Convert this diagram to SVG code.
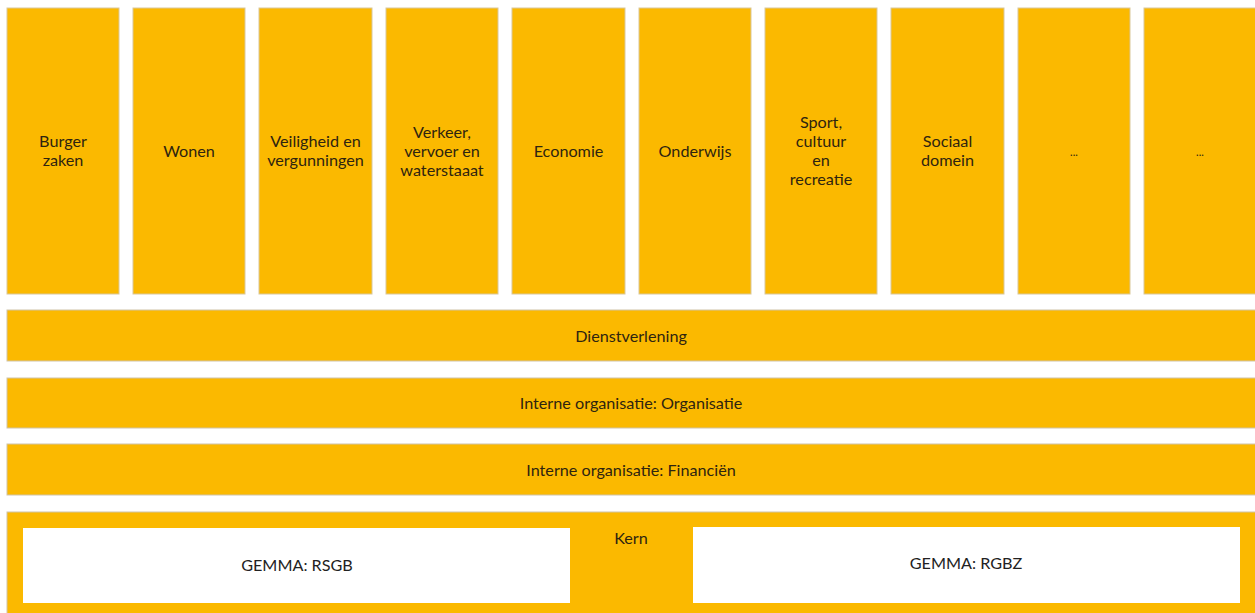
<svg xmlns="http://www.w3.org/2000/svg" width="1255" height="613" viewBox="0 0 1255 613">
<style>
.box{fill:#FBB900;stroke:#d9c79a;stroke-width:1}
.band{fill:#FBB900;stroke:#cfc3a8;stroke-width:1}
.inner{fill:#ffffff}
.t{font-family:Lato,"Noto Sans","Liberation Sans",sans-serif;font-size:16.2px;fill:#2e2410;text-anchor:middle;dominant-baseline:central}
.g{font-family:Lato,"Noto Sans","Liberation Sans",sans-serif;font-size:16.2px;fill:#222;text-anchor:middle;dominant-baseline:central}
</style>
<rect width="1255" height="613" fill="#ffffff"/>
<g id="burgerzaken"><rect class="box" x="7" y="8" width="112" height="286"/><text class="t" x="63" y="140">Burger</text><text class="t" x="63" y="159">zaken</text></g>
<g id="wonen"><rect class="box" x="133" y="8" width="112" height="286"/><text class="t" x="189" y="150">Wonen</text></g>
<g id="veiligheid"><rect class="box" x="259" y="8" width="113" height="286"/><text class="t" x="315.5" y="140">Veiligheid en</text><text class="t" x="315.5" y="159">vergunningen</text></g>
<g id="verkeer"><rect class="box" x="386" y="8" width="112" height="286"/><text class="t" x="442" y="131">Verkeer,</text><text class="t" x="442" y="150">vervoer en</text><text class="t" x="442" y="169">waterstaaat</text></g>
<g id="economie"><rect class="box" x="512" y="8" width="113" height="286"/><text class="t" x="568.5" y="150">Economie</text></g>
<g id="onderwijs"><rect class="box" x="639" y="8" width="112" height="286"/><text class="t" x="695" y="150">Onderwijs</text></g>
<g id="sport"><rect class="box" x="765" y="8" width="112" height="286"/><text class="t" x="821" y="121">Sport,</text><text class="t" x="821" y="140">cultuur</text><text class="t" x="821" y="159">en</text><text class="t" x="821" y="178">recreatie</text></g>
<g id="sociaal"><rect class="box" x="891" y="8" width="113" height="286"/><text class="t" x="947.5" y="140">Sociaal</text><text class="t" x="947.5" y="159">domein</text></g>
<g id="dots1"><rect class="box" x="1018" y="8" width="112" height="286"/><text class="t" x="1074" y="151" style="font-size:11px">...</text></g>
<g id="dots2"><rect class="box" x="1144" y="8" width="112" height="286"/><text class="t" x="1200" y="151" style="font-size:11px">...</text></g>
<g id="dienstverlening"><rect class="band" x="7" y="310" width="1249" height="51"/><text class="t" x="631" y="335">Dienstverlening</text></g>
<g id="organisatie"><rect class="band" x="7" y="378" width="1249" height="50"/><text class="t" x="631" y="402">Interne organisatie: Organisatie</text></g>
<g id="financien"><rect class="band" x="7" y="444" width="1249" height="51"/><text class="t" x="631" y="469">Interne organisatie: Financiën</text></g>
<g id="kern"><rect class="band" x="7" y="512" width="1249" height="102"/><text class="t" x="631" y="537">Kern</text>
<g id="rsgb"><rect class="inner" x="23" y="528" width="547" height="75"/><text class="g" x="297" y="564">GEMMA: RSGB</text></g>
<g id="rgbz"><rect class="inner" x="693" y="527" width="547" height="76"/><text class="g" x="966" y="562">GEMMA: RGBZ</text></g>
</g>
<g id="connectors"/>
</svg>
